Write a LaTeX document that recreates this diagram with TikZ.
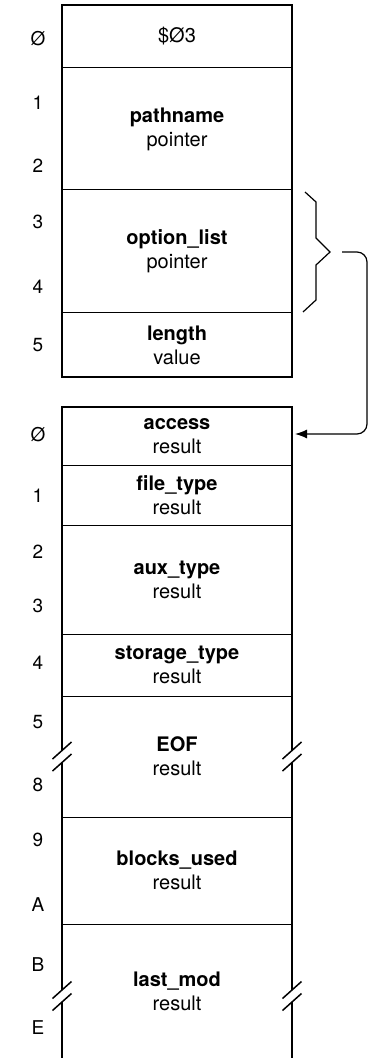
\documentclass[tikz,border=0pt]{standalone}
\usepackage{fontspec}
\setmainfont{TeX Gyre Heros}
\usetikzlibrary{arrows.meta,positioning}

\begin{document}
\begin{tikzpicture}[
    x=0.5pt, y=-0.5pt,
    cell/.style={rectangle, draw, line width=0.5pt, minimum width=115pt, minimum height=#1, inner sep=0pt, outer sep=0pt, align=center, font=\fontsize{10}{12}\selectfont},
    frame/.style={line width=1.1pt},
    offset/.style={font=\fontsize{9.5}{11}\selectfont},
    arrow/.style={line width=0.6pt, -{Latex[length=6pt,width=4.5pt]}, rounded corners=5pt, shorten >=1.5pt}
]
    \useasboundingbox (0,0) rectangle (368,1058);

    % parameter list
    \node[cell=31.5pt] (count) at (177,36.5) {\$Ø3};
    \node[cell=61pt, below=0pt of count] (path) {\textbf{pathname}\\pointer};
    \node[cell=61.5pt, below=0pt of path] (optlist) {\textbf{option\_list}\\pointer};
    \node[cell=32pt, below=0pt of optlist] (length) {\textbf{length}\\value};
    \draw[frame] (count.north west) rectangle (length.south east);

    % option list
    \node[cell=29pt] (access) at (177,436) {\textbf{access}\\result};
    \node[cell=30pt, below=0pt of access] (ftype) {\textbf{file\_type}\\result};
    \node[cell=54.5pt, below=0pt of ftype] (atype) {\textbf{aux\_type}\\result};
    \node[cell=31pt, below=0pt of atype] (stype) {\textbf{storage\_type}\\result};
    \node[cell=60.5pt, below=0pt of stype] (eof) {\textbf{EOF}\\result};
    \node[cell=53.5pt, below=0pt of eof] (blocks) {\textbf{blocks\_used}\\result};
    \node[cell=67pt, draw=none, below=0pt of blocks] (lastmod) {\textbf{last\_mod}\\result};
    \draw[frame] (lastmod.south west) |- (access.north) -| (lastmod.south east);

    % breaks in the long fields
    \foreach \p/\dy in {eof.west/0, eof.east/0, lastmod.west/-2.5, lastmod.east/-2.5} {
        \path (\p) ++(0pt,\dy pt) coordinate (m);
        \fill[white] (m) ++(-1.5pt,-3pt) rectangle ++(3pt,6pt);
        \draw[line width=0.75pt] (m) ++(-4.75pt,-1.25pt) -- ++(9.5pt,8.5pt);
        \draw[line width=0.75pt] (m) ++(-4.75pt,-7.25pt) -- ++(9.5pt,8.5pt);
    }

    % byte offsets
    \foreach \t/\y [count=\i] in {Ø/39, 1/103, 2/166, 3/222, 4/287, 5/345,
        Ø/435, 1/496, 2/552, 3/606, 4/663, 5/722, 8/785, 9/840, A/905, B/965, E/1028}
        \node[offset] (off\i) at (38,\y) {\t};

    % brace and pointer
    \coordinate (brtip) at (330,252);
    \draw[line width=0.6pt] (305,192) -- (316,202) -- (316,238) -- (brtip) -- (316,265) -- (316,300) -- (303,312);
    \coordinate (bend) at (367,252);
    \draw[arrow] ([xshift=6pt]brtip) -- (bend) |- ([yshift=1pt]access.east);
\end{tikzpicture}
\end{document}
